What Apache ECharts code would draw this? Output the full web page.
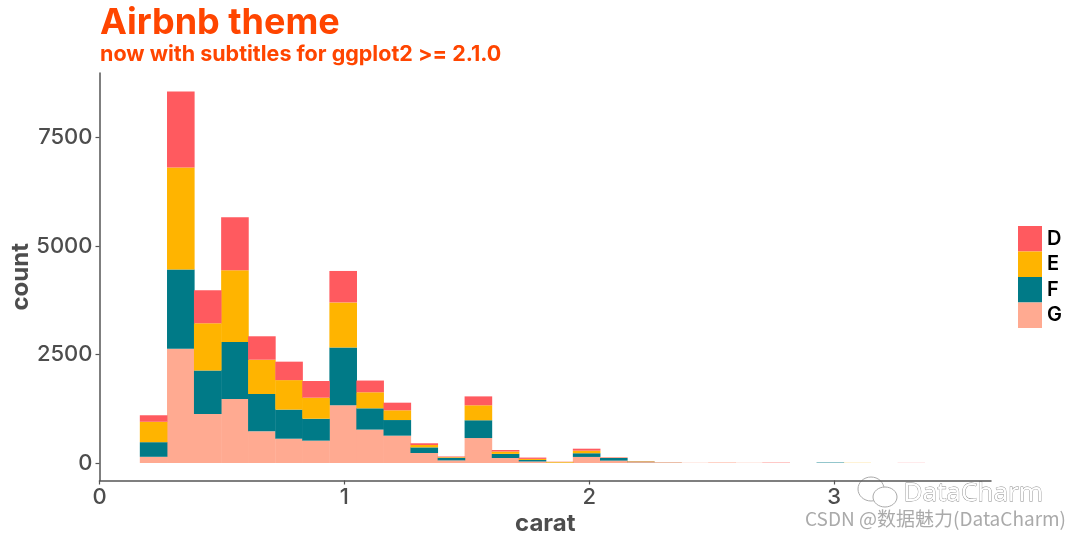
<!DOCTYPE html>
<html><head><meta charset="utf-8">
<style>html,body{margin:0;padding:0;background:#fff}#c{width:1080px;height:540px}</style>
<script src="https://cdn.jsdelivr.net/npm/echarts@6/dist/echarts.min.js"></script>
</head><body><div id="c"></div>
<script>
const binCenters=[0.221,0.332,0.442,0.553,0.663,0.774,0.884,0.995,1.105,1.216,1.326,1.437,1.547,1.658,1.768,1.879,1.989,2.100,2.210,2.321,2.431,2.542,2.652,2.763,2.873,2.984,3.094,3.205,3.315,3.426];
const valuesG=[143,2630,1130,1475,730,560,515,1330,770,630,230,60,575,115,35,5,140,55,20,12,5,12,5,4,0,0,0,0,0,0];
const valuesF=[337,1830,1000,1315,860,670,505,1330,490,360,130,60,410,95,35,3,85,60,10,2,0,0,0,0,0,10,0,0,0,0];
const valuesE=[470,2350,1090,1650,790,680,485,1040,370,225,55,15,345,55,25,17,60,5,10,2,0,0,0,0,0,0,4,0,0,0];
const valuesD=[150,1750,760,1220,540,425,385,725,270,175,40,15,205,35,30,5,45,10,5,2,0,0,0,6,0,0,0,0,3,0];
const seriesNames=["D","E","F","G"];
const xTicks=[0,1,2,3];
const yTicks=[0,2500,5000,7500];
const colors={D:"#FF5A5F",E:"#FFB400",F:"#007A87",G:"#FFAA91"};
const byName={D:valuesD,E:valuesE,F:valuesF,G:valuesG};
const font="Inter";
const chart=echarts.init(document.getElementById('c'),null,{renderer:'canvas'});
chart.setOption({
  animation:false,
  backgroundColor:"#fff",
  title:{text:"Airbnb theme",subtext:"now with subtitles for ggplot2 >= 2.1.0",left:100,top:5,itemGap:3,padding:0,
    textStyle:{fontFamily:font,fontWeight:700,fontSize:36,color:"#FF4500"},
    subtextStyle:{fontFamily:font,fontWeight:700,fontSize:21.5,color:"#FF4500"}},
  grid:{left:99.5,right:89,top:73,bottom:59.5,outerBoundsMode:"none"},
  legend:{data:seriesNames,orient:"vertical",left:1018,top:226,itemWidth:24,itemHeight:25.5,itemGap:0,icon:"rect",selectedMode:false,
    textStyle:{fontFamily:font,fontWeight:600,fontSize:20,color:"#000"},padding:0},
  xAxis:{type:"value",min:0,max:3.64,name:"carat",nameLocation:"middle",nameGap:31,nameMoveOverlap:false,
    nameTextStyle:{fontFamily:font,fontWeight:700,fontSize:24,color:"#4d4d4d"},
    splitLine:{show:false},
    axisLine:{show:true,onZero:false,lineStyle:{color:"#555",width:1.5}},
    axisTick:{show:true,length:4,customValues:xTicks,lineStyle:{color:"#555",width:1.2}},
    axisLabel:{customValues:xTicks,margin:6,fontFamily:font,fontSize:22,fontWeight:500,color:"#4d4d4d",formatter:v=>String(v)}},
  yAxis:{type:"value",min:-403,max:8986,name:"count",nameLocation:"middle",nameGap:67,nameRotate:90,nameMoveOverlap:false,
    nameTextStyle:{fontFamily:font,fontWeight:700,fontSize:24,color:"#4d4d4d"},
    splitLine:{show:false},
    axisLine:{show:true,onZero:false,lineStyle:{color:"#555",width:1.5}},
    axisTick:{show:true,length:4,customValues:yTicks,lineStyle:{color:"#555",width:1.2}},
    axisLabel:{customValues:yTicks,margin:7,fontFamily:font,fontSize:22,fontWeight:500,color:"#4d4d4d",formatter:v=>String(v)}},
  series:["G","F","E","D"].map(n=>({
    name:n,type:"bar",stack:"count",barWidth:27.6,itemStyle:{color:colors[n]},
    encode:{x:1,y:0},
    data:binCenters.map((x,i)=>[byName[n][i],x])
  })),
  graphic:[
    {type:"ellipse",silent:true,shape:{cx:871,cy:489,rx:13,ry:12},style:{fill:"#fff",stroke:"#aaa",lineWidth:1}},
    {type:"ellipse",silent:true,shape:{cx:885,cy:497,rx:12,ry:10},style:{fill:"#fff",stroke:"#aaa",lineWidth:1}},
    {type:"text",left:903,top:480,silent:true,style:{text:"DataCharm",fontFamily:"Noto Sans",fontSize:26,fill:"#fff",stroke:"#888",lineWidth:.8}},
    {type:"text",left:805,top:509,silent:true,style:{text:"CSDN @数据魅力(DataCharm)",fontFamily:"Noto Sans CJK SC",fontSize:19,fill:"#aaa"}}
  ]
});
</script></body></html>
